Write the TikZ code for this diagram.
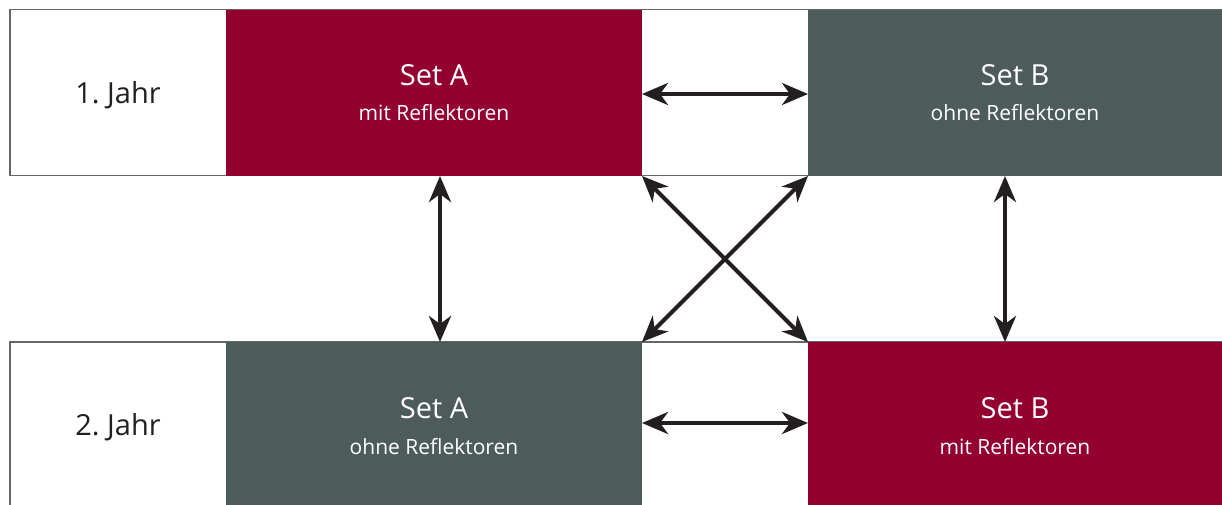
\documentclass[tikz,border=0pt]{standalone}
\usepackage{fontspec}
\setmainfont{Open Sans}
\usetikzlibrary{arrows.meta}
\definecolor{reflred}{HTML}{930030}
\definecolor{reflgray}{HTML}{4D5B5B}
\definecolor{arrowink}{HTML}{231F20}
\definecolor{frameline}{HTML}{666666}
\tikzset{
  setbox/.style={inner sep=0pt, outer sep=0pt, anchor=north west},
  title/.style={text=white, font=\fontsize{29}{32}\selectfont},
  sub/.style={text=white, font=\fontsize{21}{24}\selectfont},
  yearlabel/.style={text=arrowink, font=\fontsize{29}{32}\selectfont},
  link/.style={draw=arrowink, line width=4.2pt, {Stealth[length=26pt,width=22pt,inset=8pt]}-{Stealth[length=26pt,width=22pt,inset=8pt]}, shorten <=0pt, shorten >=0pt},
}
\begin{document}
\begin{tikzpicture}[x=1pt,y=-1pt]
\useasboundingbox (0,0) rectangle (1222,504);
\begin{scope}
\clip (0,0) rectangle (1222,504);
% row frames
\draw[frameline, line width=1.5pt] (10,9.5) rectangle (1224,175.5);
\draw[frameline, line width=1.5pt] (10,342) rectangle (1224,520);
% coloured sets
\node[setbox, fill=reflred, minimum width=416pt, minimum height=166pt] (a1) at (226,9.5) {};
\node[setbox, fill=reflgray, minimum width=416pt, minimum height=166pt] (b1) at (808,9.5) {};
\node[setbox, fill=reflgray, minimum width=416pt, minimum height=175pt] (a2) at (226,342) {};
\node[setbox, fill=reflred, minimum width=416pt, minimum height=175pt] (b2) at (808,342) {};
\end{scope}
% labels
\node[yearlabel] (y1) at (118,95) {1.\ Jahr};
\node[yearlabel] (y2) at (118,427) {2.\ Jahr};
\node[title] (ta1) at (434,75) {Set A};
\node[sub] (sa1) at (434,113) {mit Reflektoren};
\node[title] (tb1) at (1015,75) {Set B};
\node[sub] (sb1) at (1015,113) {ohne Reflektoren};
\node[title] (ta2) at (434,408) {Set A};
\node[sub] (sa2) at (434,447) {ohne Reflektoren};
\node[title] (tb2) at (1015,408) {Set B};
\node[sub] (sb2) at (1015,447) {mit Reflektoren};
% anchor points for the connectors
\coordinate (a1e) at (642,94);
\coordinate (b1w) at (808,94);
\coordinate (a2e) at (642,423);
\coordinate (b2w) at (808,423);
\coordinate (a1s) at (440,176);
\coordinate (a2n) at (440,342);
\coordinate (b1s) at (1005,176);
\coordinate (b2n) at (1005,342);
\coordinate (a1se) at (642,176);
\coordinate (b1sw) at (808,176);
\coordinate (a2ne) at (642,342);
\coordinate (b2nw) at (808,342);
% connectors
\draw[link] (a1e) -- (b1w);
\draw[link] (a2e) -- (b2w);
\draw[link] (a1s) -- (a2n);
\draw[link] (b1s) -- (b2n);
\draw[link] (a1se) -- (b2nw);
\draw[link] (b1sw) -- (a2ne);
\end{tikzpicture}
\end{document}
